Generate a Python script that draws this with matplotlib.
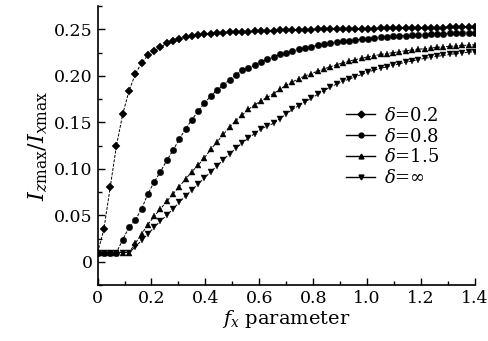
import numpy as np
import matplotlib
matplotlib.use("Agg")
import matplotlib.pyplot as plt
from matplotlib.lines import Line2D
from matplotlib.ticker import MultipleLocator

plt.rcParams["font.family"] = ["DejaVu Serif"]
plt.rcParams["mathtext.fontset"] = "dejavuserif"

# f_x grid: 61 samples from 0 to 1.4
fx = np.linspace(0, 1.4, 61)

labels = [r"$\delta$=0.2", r"$\delta$=0.8", r"$\delta$=1.5", r"$\delta$=$\infty$"]

delta_02 = [0.010, 0.035, 0.080, 0.125, 0.159, 0.184, 0.202, 0.214, 0.222, 0.227,
            0.231, 0.235, 0.238, 0.240, 0.242, 0.243, 0.244, 0.245, 0.2455, 0.246,
            0.2465, 0.247, 0.2472, 0.2474, 0.2476, 0.2478, 0.248, 0.2483, 0.2485, 0.2488,
            0.249, 0.2492, 0.2494, 0.2496, 0.2498, 0.250, 0.2501, 0.2502, 0.2503, 0.2504,
            0.2505, 0.2506, 0.2507, 0.2508, 0.2509, 0.251, 0.2511, 0.2512, 0.2513, 0.2514,
            0.2515, 0.2516, 0.2517, 0.2518, 0.2519, 0.252, 0.2521, 0.2521, 0.2522, 0.2522,
            0.2522]
delta_08 = [0.010, 0.010, 0.010, 0.010, 0.024, 0.037, 0.045, 0.057, 0.073, 0.086,
            0.097, 0.109, 0.120, 0.132, 0.143, 0.153, 0.162, 0.171, 0.178, 0.185,
            0.190, 0.196, 0.201, 0.2065, 0.208, 0.212, 0.215, 0.218, 0.2205, 0.223,
            0.225, 0.2268, 0.2285, 0.230, 0.2315, 0.2328, 0.234, 0.235, 0.236, 0.237,
            0.2378, 0.2386, 0.2393, 0.240, 0.2407, 0.2413, 0.2419, 0.2424, 0.2429, 0.2433,
            0.2437, 0.2441, 0.2444, 0.2447, 0.245, 0.2453, 0.2456, 0.2458, 0.246, 0.2462,
            0.2464]
delta_15 = [0.010, 0.010, 0.010, 0.010, 0.010, 0.010, 0.020, 0.030, 0.040, 0.049,
            0.057, 0.065, 0.073, 0.081, 0.089, 0.097, 0.104, 0.112, 0.121, 0.129,
            0.137, 0.145, 0.152, 0.158, 0.164, 0.169, 0.173, 0.177, 0.181, 0.1855,
            0.190, 0.1935, 0.197, 0.200, 0.2025, 0.205, 0.2075, 0.2098, 0.212, 0.214,
            0.2158, 0.2175, 0.219, 0.2205, 0.2218, 0.223, 0.224, 0.225, 0.226, 0.227,
            0.2278, 0.2286, 0.2293, 0.230, 0.2306, 0.2312, 0.2317, 0.2322, 0.2327, 0.2331,
            0.2335]
delta_inf = [0.010, 0.010, 0.010, 0.010, 0.010, 0.010, 0.016, 0.023, 0.030, 0.037,
             0.044, 0.050, 0.057, 0.064, 0.071, 0.077, 0.084, 0.090, 0.097, 0.103,
             0.110, 0.116, 0.122, 0.128, 0.133, 0.138, 0.143, 0.146, 0.149, 0.154,
             0.159, 0.164, 0.168, 0.172, 0.176, 0.180, 0.184, 0.188, 0.191, 0.194,
             0.1965, 0.199, 0.2015, 0.204, 0.2063, 0.208, 0.2098, 0.2115, 0.213, 0.2148,
             0.216, 0.2175, 0.2188, 0.220, 0.221, 0.222, 0.223, 0.224, 0.2248, 0.2255,
             0.226]

series = [delta_02, delta_08, delta_15, delta_inf]
markers = ["D", "o", "^", "v"]
msizes = [4.4, 4.6, 5.0, 5.0]

fig = plt.figure(figsize=(4.88, 3.41), dpi=100)
ax = fig.add_axes([0.2, 0.164, 0.773, 0.818])

for y, m, ms in zip(series, markers, msizes):
    ax.plot(fx, y, color="black", linestyle=(0, (3, 1.5)), linewidth=0.7,
            marker=m, markersize=ms, markerfacecolor="black", markeredgecolor="black",
            markeredgewidth=0.3)

ax.set_xlim(0, 1.4)
ax.set_ylim(-0.025, 0.275)
ax.set_xticks([0, 0.2, 0.4, 0.6, 0.8, 1.0, 1.2, 1.4])
ax.set_xticklabels(["0", "0.2", "0.4", "0.6", "0.8", "1.0", "1.2", "1.4"])
ax.set_yticks([0, 0.05, 0.10, 0.15, 0.20, 0.25])
ax.set_yticklabels(["0", "0.05", "0.10", "0.15", "0.20", "0.25"])
ax.xaxis.set_minor_locator(MultipleLocator(0.1))
ax.yaxis.set_minor_locator(MultipleLocator(0.025))
ax.tick_params(which="both", direction="in", labelsize=12.5, width=1.0)
ax.tick_params(which="major", length=5)
ax.tick_params(which="minor", length=3)
ax.spines["top"].set_visible(False)
ax.spines["right"].set_visible(False)
for s in ["left", "bottom"]:
    ax.spines[s].set_linewidth(1.2)

ax.set_xlabel(r"$f_x$ parameter", fontsize=14, labelpad=1)
ax.set_ylabel(r"$I_{z\mathrm{max}}/I_{x\mathrm{max}}$", fontsize=16, labelpad=3)

handles = [Line2D([0], [0], color="black", linewidth=1.0, marker=m, markersize=3.5)
           for m in markers]
ax.legend(handles, labels, loc="upper left", bbox_to_anchor=(0.64, 0.665), frameon=False,
          fontsize=13, handlelength=1.6, handletextpad=0.5, labelspacing=0.15,
          borderaxespad=0)

fig.savefig("out.png", dpi=100)
